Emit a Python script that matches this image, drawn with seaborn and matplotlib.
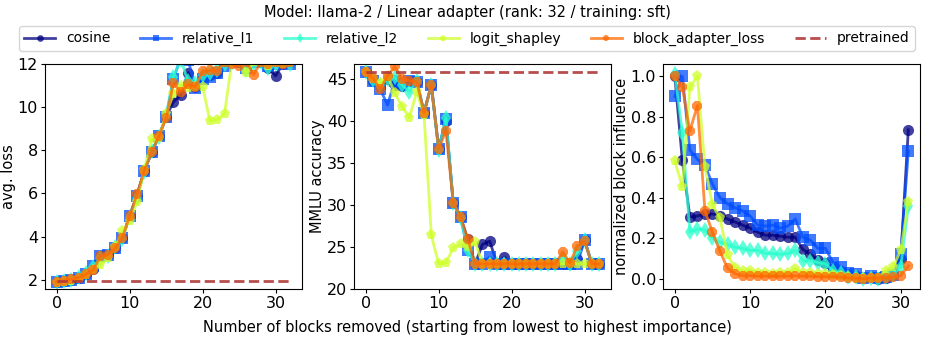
import matplotlib
matplotlib.use("Agg")
import matplotlib.pyplot as plt
import numpy as np
import seaborn as sns

methods = ["cosine", "relative_l1", "relative_l2", "logit_shapley", "block_adapter_loss"]
markers = ["o", "s", "d", "p", "8"]

# avg. loss per number of removed blocks (0..32)
loss_cosine = [1.9, 1.95, 2.0, 2.1, 2.25, 2.5, 3.1, 3.15, 3.45, 3.95, 4.95, 5.9, 7.05, 7.9, 8.65, 9.55,
               10.25, 10.55, 11.6, 10.95, 11.4, 11.5, 11.6, 12.1, 12.2, 12.1, 12.0, 12.2, 12.1, 11.8, 11.45, 12.0, 12.1]
loss_rel_l1 = [1.9, 1.95, 2.0, 2.1, 2.25, 2.65, 3.1, 3.15, 3.45, 3.95, 4.95, 5.9, 7.05, 7.9, 8.65, 9.55,
               11.3, 12.3, 12.2, 10.9, 11.3, 11.4, 11.6, 11.9, 12.2, 12.1, 11.8, 12.1, 12.2, 11.9, 12.0, 12.1, 12.0]
loss_rel_l2 = [1.88, 1.93, 2.0, 2.12, 2.3, 2.6, 3.0, 3.1, 3.5, 3.9, 4.9, 5.8, 7.0, 7.95, 8.6, 9.6,
               11.4, 12.2, 11.2, 11.1, 11.5, 11.6, 11.7, 12.0, 12.1, 12.2, 11.7, 12.0, 12.1, 11.8, 12.0, 12.2, 12.0]
loss_logit = [1.85, 1.9, 1.95, 2.05, 2.2, 2.45, 2.7, 3.0, 3.5, 4.25, 4.7, 5.6, 7.1, 8.5, 8.55, 9.7,
              10.6, 11.0, 10.9, 10.95, 10.95, 9.35, 9.42, 9.7, 12.1, 12.2, 11.6, 12.1, 12.2, 11.9, 12.1, 12.0, 12.1]
loss_block = [1.9, 1.95, 2.02, 2.1, 2.25, 2.45, 3.1, 3.15, 3.45, 3.95, 4.95, 5.95, 7.05, 7.9, 8.65, 9.5,
              11.1, 10.7, 11.05, 10.95, 11.65, 11.7, 11.65, 12.1, 12.0, 11.9, 12.1, 11.5, 12.1, 12.0, 12.1, 12.0, 12.1]
loss_pretrained = 1.92

# MMLU accuracy per number of removed blocks (0..32)
mmlu_cosine = [45.8, 44.8, 44.0, 45.0, 44.3, 44.2, 44.8, 44.7, 41.0, 44.3, 36.7, 40.0, 30.3, 28.6, 25.9, 23.0,
               25.3, 25.7, 23.0, 23.8, 23.0, 23.0, 23.0, 23.0, 23.0, 23.0, 23.0, 23.0, 23.0, 23.6, 25.8, 23.0, 23.0]
mmlu_rel_l1 = [45.8, 44.8, 43.8, 41.9, 44.8, 44.3, 44.8, 44.7, 41.0, 44.3, 36.7, 40.2, 30.3, 28.6, 24.6, 23.0,
               23.0, 23.8, 23.0, 23.0, 23.0, 23.0, 23.0, 23.0, 23.0, 23.0, 23.0, 23.0, 23.0, 23.0, 25.8, 23.0, 23.0]
mmlu_rel_l2 = [45.8, 44.9, 44.3, 45.0, 45.2, 44.3, 43.5, 44.8, 41.0, 44.3, 36.5, 40.4, 30.3, 28.5, 24.6, 23.0,
               23.0, 23.0, 23.0, 23.0, 23.0, 23.0, 23.0, 23.0, 23.0, 23.0, 23.0, 23.7, 23.0, 24.5, 25.8, 23.0, 23.0]
mmlu_logit = [45.8, 45.0, 44.5, 45.4, 43.3, 41.7, 40.4, 43.5, 40.7, 26.4, 23.0, 23.1, 24.9, 25.4, 25.0, 25.6,
              23.0, 23.0, 23.0, 23.0, 23.0, 23.0, 23.0, 23.0, 23.0, 23.0, 23.0, 23.0, 23.1, 23.0, 23.0, 23.0, 23.0]
mmlu_block = [45.8, 45.1, 43.8, 45.4, 46.5, 45.0, 44.8, 44.7, 41.0, 44.3, 36.7, 38.8, 30.3, 28.6, 25.9, 23.0,
              23.0, 23.0, 23.0, 23.0, 23.0, 23.0, 23.0, 23.0, 23.0, 23.0, 23.0, 24.4, 23.1, 25.1, 25.7, 23.0, 23.0]
mmlu_pretrained = 45.85

# normalized influence per block (0..31)
inf_cosine = [1.0, 0.585, 0.305, 0.31, 0.32, 0.32, 0.31, 0.295, 0.28, 0.265, 0.25, 0.23, 0.215, 0.215, 0.21, 0.205,
              0.205, 0.145, 0.12, 0.095, 0.08, 0.05, 0.04, 0.025, 0.015, 0.005, 0.01, 0.0, 0.005, 0.02, 0.1, 0.735]
inf_rel_l1 = [0.9, 1.0, 0.635, 0.59, 0.56, 0.467, 0.40, 0.37, 0.35, 0.335, 0.31, 0.265, 0.26, 0.265, 0.25, 0.26,
              0.295, 0.205, 0.19, 0.15, 0.15, 0.08, 0.06, 0.03, 0.025, 0.005, 0.015, 0.005, 0.01, 0.02, 0.12, 0.63]
inf_rel_l2 = [1.01, 0.72, 0.23, 0.245, 0.24, 0.2, 0.18, 0.17, 0.155, 0.15, 0.14, 0.14, 0.125, 0.125, 0.12, 0.125,
              0.14, 0.09, 0.09, 0.08, 0.075, 0.04, 0.03, 0.01, 0.01, 0.0, 0.005, 0.0, 0.01, 0.02, 0.06, 0.36]
inf_logit = [0.58, 0.455, 0.945, 1.0, 0.55, 0.365, 0.30, 0.115, 0.055, 0.04, 0.04, 0.03, 0.03, 0.025, 0.03, 0.03,
             0.05, 0.03, 0.03, 0.025, 0.025, 0.02, 0.015, 0.01, 0.005, 0.005, 0.005, 0.005, 0.04, 0.06, 0.14, 0.38]
inf_block = [1.0, 0.945, 0.73, 0.855, 0.335, 0.23, 0.135, 0.052, 0.025, 0.015, 0.015, 0.012, 0.012, 0.012, 0.012, 0.012,
             0.015, 0.012, 0.012, 0.01, 0.01, 0.01, 0.008, 0.005, 0.003, 0.0, 0.003, 0.003, 0.005, 0.008, 0.015, 0.063]

loss_series = [loss_cosine, loss_rel_l1, loss_rel_l2, loss_logit, loss_block]
mmlu_series = [mmlu_cosine, mmlu_rel_l1, mmlu_rel_l2, mmlu_logit, mmlu_block]
inf_series = [inf_cosine, inf_rel_l1, inf_rel_l2, inf_logit, inf_block]

colors = [plt.cm.jet(v) for v in np.linspace(0, 1, 6)]
pre_color = "#b03a3a"

fig = plt.figure(figsize=(9.34, 3.41), dpi=100)
axes = [fig.add_axes([left, 0.1525, 0.275, 0.66]) for left in (0.0482, 0.379, 0.710)]


def draw(ax, series, pretrained=None):
    for name, vals, c, m in zip(methods, series, colors, markers):
        x = np.arange(len(vals))
        sns.lineplot(x=x, y=vals, ax=ax, color=c, marker=m, label=name, alpha=0.75,
                     linewidth=2, markersize=8, markeredgewidth=0)
    if pretrained is not None:
        n = len(series[0])
        sns.lineplot(x=np.arange(n), y=[pretrained] * n, ax=ax, color=pre_color, linestyle="--",
                     linewidth=2, alpha=0.9, label="pretrained")
    ax.get_legend().remove()
    ax.tick_params(labelsize=11.5, length=3, pad=2)
    ax.set_xticks([0, 10, 20, 30])


draw(axes[0], loss_series, loss_pretrained)
axes[0].set_ylim(1.57, 12)
axes[0].set_ylabel("avg. loss", fontsize=10.5, labelpad=1.5)

draw(axes[1], mmlu_series, mmlu_pretrained)
axes[1].set_ylim(20, 46.8)
axes[1].set_yticks([20, 25, 30, 35, 40, 45])
axes[1].set_ylabel("MMLU accuracy", fontsize=10.5, labelpad=1.5)

draw(axes[2], inf_series)
axes[2].set_ylabel("normalized block influence", fontsize=10.5, labelpad=1.5)

for ax in axes[:2]:
    ax.set_xlim(-1.6, 33.6)
axes[2].set_xlim(-1.55, 32.55)

handles, labels = axes[0].get_legend_handles_labels()
fig.legend(handles, labels, loc="center", bbox_to_anchor=(0.5, 0.887), ncol=6, fontsize=10,
           markerscale=0.6, frameon=True, handlelength=2.2, columnspacing=2.15)
fig.text(0.5, 0.963, "Model: llama-2 / Linear adapter (rank: 32 / training: sft)",
         ha="center", va="center", fontsize=10.5)
fig.text(0.5, 0.041, "Number of blocks removed (starting from lowest to highest importance)",
         ha="center", va="center", fontsize=10.5)

fig.savefig("out.png", dpi=100)
